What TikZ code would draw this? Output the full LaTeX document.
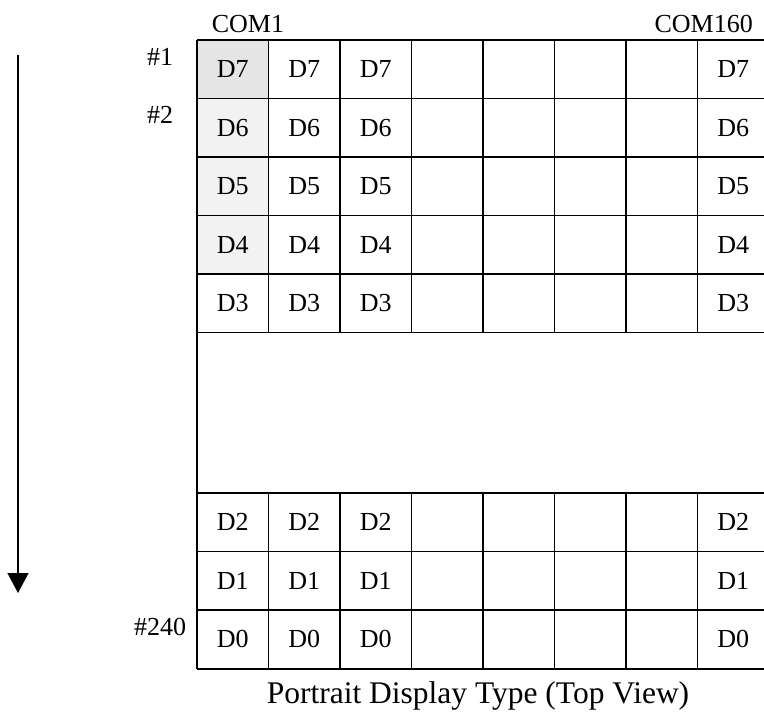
\documentclass[tikz,border=0pt]{standalone}
\usepackage{fontspec}
\setmainfont{Liberation Serif}
\usetikzlibrary{arrows.meta}
\definecolor{shadedark}{gray}{0.9}
\definecolor{shadelight}{gray}{0.95}
\tikzset{
  gridline/.style={line width=1.3pt},
  celltext/.style={font=\fontsize{26}{31}\selectfont, inner sep=0pt},
  rowlabel/.style={font=\fontsize{26}{31}\selectfont, inner sep=0pt, anchor=base},
}
\begin{document}
\begin{tikzpicture}[x=1pt,y=-1pt]
    \useasboundingbox (0,0) rectangle (764,713);
    % shaded cells of COM1
    \fill[shadedark] (197,40) rectangle (268.5,98.5);
    \fill[shadelight] (197,98.5) rectangle (268.5,274);
    % grid
    \foreach \y in {40,98.5,157,215.5,274,332.5,493,551.5,610,669}
        \draw[gridline] (197,\y) -- (764,\y);
    \draw[gridline] (197,40) -- (197,669);
    \foreach \x in {268.5,340,411.5,483,554.5,626,697.5} {
        \draw[gridline] (\x,40) -- (\x,332.5);
        \draw[gridline] (\x,493) -- (\x,669);
    }
    % cell texts
    \foreach \r/\d in {0/7,1/6,2/5,3/4,4/3}
        \foreach \c/\x in {1/232.75,2/304.25,3/375.75,8/733.25}
            \node[celltext] (cell-\d-\c) at (\x,69.25+58.5*\r) {D\d};
    \foreach \r/\d in {0/2,1/1,2/0}
        \foreach \c/\x in {1/232.75,2/304.25,3/375.75,8/733.25}
            \node[celltext] (cell-\d-\c) at (\x,522.25+58.5*\r) {D\d};
    % labels
    \node[rowlabel] (com1) at (248,32) {COM1};
    \node[rowlabel, anchor=base east] (com160) at (753,32) {COM160};
    \node[rowlabel] (row1) at (160,65) {\#1};
    \node[rowlabel] (row2) at (160,123) {\#2};
    \node[rowlabel] (row240) at (160,635) {\#240};
    \node[inner sep=0pt, anchor=base, font=\fontsize{31.5}{37}\selectfont] (caption) at (478,703)
        {Portrait Display Type (Top View)};
    % scan direction
    \coordinate (scan top) at (18,55);
    \coordinate (scan bottom) at (18,593);
    \draw[line width=1.3pt, -{Triangle[width=21pt,length=20pt]}] (scan top) -- (scan bottom);
\end{tikzpicture}
\end{document}
